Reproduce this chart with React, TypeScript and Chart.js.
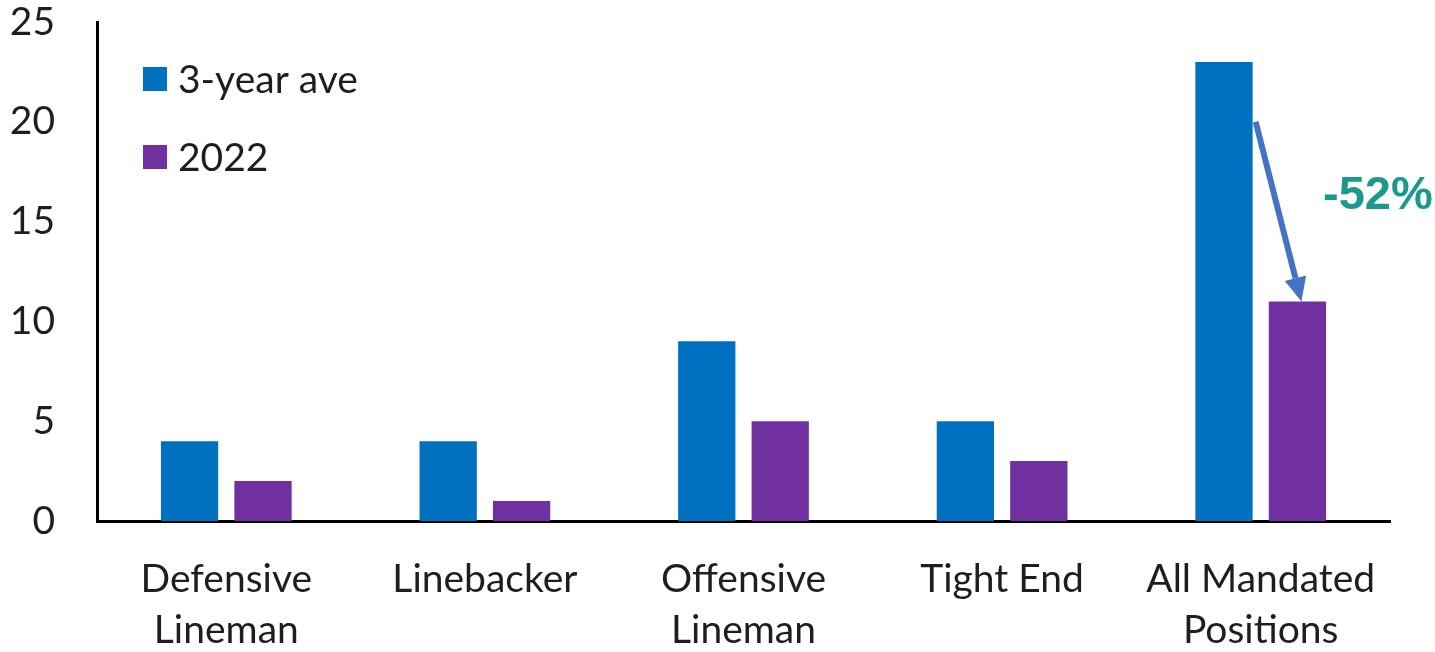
import React, { useEffect, useRef } from "react";
import { Chart, registerables } from "chart.js";

Chart.register(...registerables);

// Positions and series
const categories: (string | string[])[] = [
  ["Defensive", "Lineman"],
  "Linebacker",
  ["Offensive", "Lineman"],
  "Tight End",
  ["All Mandated", "Positions"],
];
const threeYearAve = [4, 4, 9, 5, 23];
const season2022 = [2, 1, 5, 3, 11];
const seriesNames = ["3-year ave", "2022"];
const yTicks = [0, 5, 10, 15, 20, 25];
const changeLabel = "-52%";
const arrowFromValue = 20;

const BLUE = "#0070C0";
const PURPLE = "#7030A0";
const ARROW = "#4472C4";
const TEAL = "#1A9A8C";
const FONT = "Lato, 'Open Sans', sans-serif";

// Legend drawn inside the plot area, top-left
const insideLegend = {
  id: "insideLegend",
  afterDatasetsDraw(chart: any) {
    const { ctx, chartArea } = chart;
    ctx.save();
    ctx.font = `39px ${FONT}`;
    ctx.textBaseline = "middle";
    ctx.textAlign = "left";
    chart.data.datasets.forEach((ds: any, i: number) => {
      const cy = chartArea.top + 57 + i * 78;
      const x = chartArea.left + 46;
      ctx.fillStyle = ds.backgroundColor;
      ctx.fillRect(x, cy - 12, 24, 24);
      ctx.fillStyle = "#1e1e1e";
      ctx.fillText(ds.label, x + 35, cy + 1);
    });
    ctx.restore();
  },
};

// Arrow from the 3-year bar to the 2022 bar of the last group, with the change label
const changeArrow = {
  id: "changeArrow",
  afterDatasetsDraw(chart: any) {
    const { ctx, scales } = chart;
    const last = categories.length - 1;
    const a: any = chart.getDatasetMeta(0).data[last];
    const b: any = chart.getDatasetMeta(1).data[last];
    if (!a || !b) return;
    const x1 = a.x + a.width / 2 + 3;
    const y1 = scales.y.getPixelForValue(arrowFromValue);
    const x2 = b.x + 4;
    const y2 = scales.y.getPixelForValue(season2022[last]);
    const ang = Math.atan2(y2 - y1, x2 - x1);
    const headLen = 24;
    const headHalf = 11;
    const bx = x2 - headLen * Math.cos(ang);
    const by = y2 - headLen * Math.sin(ang);
    ctx.save();
    ctx.strokeStyle = ARROW;
    ctx.fillStyle = ARROW;
    ctx.lineWidth = 6;
    ctx.beginPath();
    ctx.moveTo(x1, y1);
    ctx.lineTo(bx, by);
    ctx.stroke();
    ctx.beginPath();
    ctx.moveTo(x2, y2);
    ctx.lineTo(bx + headHalf * Math.sin(ang), by - headHalf * Math.cos(ang));
    ctx.lineTo(bx - headHalf * Math.sin(ang), by + headHalf * Math.cos(ang));
    ctx.closePath();
    ctx.fill();

    ctx.font = `bold 47px 'Liberation Sans', Arial, sans-serif`;
    ctx.fillStyle = TEAL;
    ctx.textAlign = "left";
    ctx.textBaseline = "middle";
    ctx.fillText(changeLabel, b.x + b.width / 2 - 3, scales.y.getPixelForValue(16.3));
    ctx.restore();
  },
};

export default function App() {
  const canvasRef = useRef<HTMLCanvasElement | null>(null);

  useEffect(() => {
    if (!canvasRef.current) return;
    const chart = new Chart(canvasRef.current, {
      type: "bar",
      data: {
        labels: categories,
        datasets: [
          { label: seriesNames[0], data: threeYearAve, backgroundColor: BLUE },
          { label: seriesNames[1], data: season2022, backgroundColor: PURPLE },
        ],
      },
      options: {
        animation: false,
        responsive: false,
        layout: { padding: { top: 22, right: 45, left: 0, bottom: 0 } },
        datasets: {
          bar: { categoryPercentage: 0.568, barPercentage: 0.78 },
        },
        plugins: {
          legend: { display: false },
          tooltip: { enabled: false },
        },
        scales: {
          x: {
            grid: { display: false, drawTicks: false },
            border: { display: true, color: "#000", width: 3 },
            ticks: {
              color: "#1e1e1e",
              font: { family: FONT, size: 39, lineHeight: 1.31 },
              padding: 33,
              maxRotation: 0,
              autoSkip: false,
            },
            afterFit: (s: any) => {
              s.height = 131;
              s.paddingLeft = 0;
              s.paddingRight = 0;
            },
          },
          y: {
            min: 0,
            max: 25,
            afterBuildTicks: (s: any) => {
              s.ticks = yTicks.map((v) => ({ value: v }));
            },
            grid: { display: false, drawTicks: false },
            border: { display: true, color: "#000", width: 3 },
            ticks: {
              color: "#1e1e1e",
              font: { family: FONT, size: 39 },
              padding: 42,
            },
            afterFit: (s: any) => {
              s.width = 97;
              s.paddingTop = 0;
              s.paddingBottom = 0;
            },
          },
        },
      },
      plugins: [insideLegend, changeArrow],
    });
    return () => chart.destroy();
  }, []);

  return (
    <div style={{ position: "absolute", left: 0, top: 0, width: 1435, height: 652, background: "#fff" }}>
      <canvas ref={canvasRef} width={1435} height={652} />
    </div>
  );
}
